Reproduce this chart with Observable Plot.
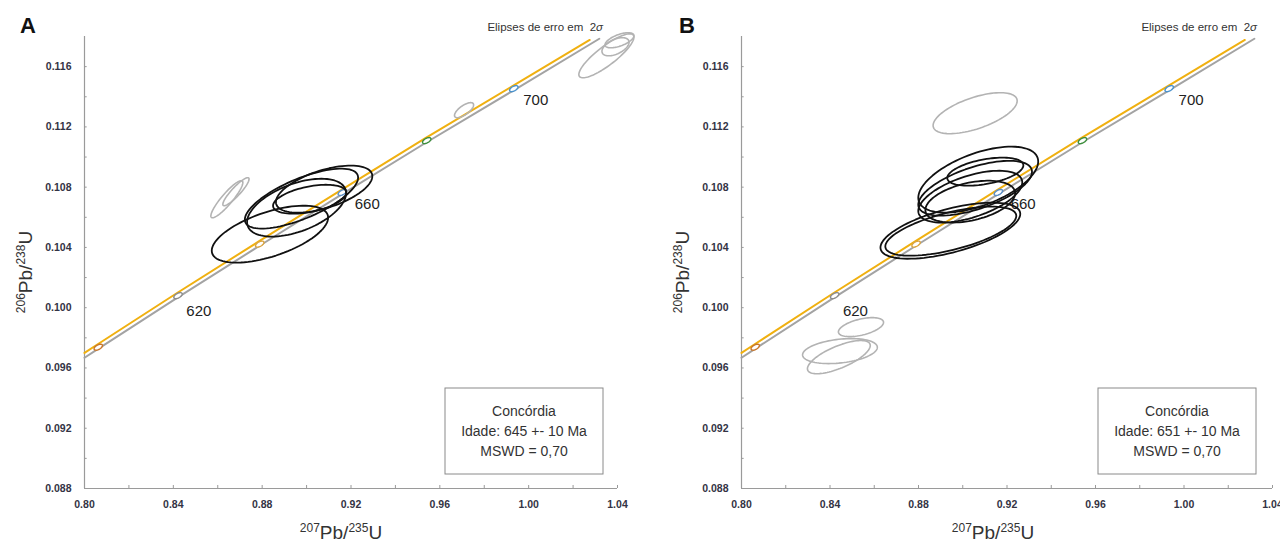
<!DOCTYPE html>
<html><head><meta charset="utf-8">
<script src="https://cdn.jsdelivr.net/npm/d3@7"></script>
<script src="https://cdn.jsdelivr.net/npm/@observablehq/plot@0.6"></script>
<style>
body{margin:0;background:#fff;width:1280px;height:543px;overflow:hidden;font-family:"Liberation Sans",Arial,sans-serif}
#wrap{position:relative;width:1280px;height:543px}
#a{position:absolute;left:0;top:0}
#b{position:absolute;left:640px;top:0}
svg{overflow:visible}
</style></head><body><div id="wrap"><div id="a"></div><div id="b"></div></div>
<script>
// ---- axes ----
const xTicks = [0.80, 0.84, 0.88, 0.92, 0.96, 1.00, 1.04];
const xMinor = [0.82, 0.86, 0.90, 0.94, 0.98, 1.02];
const yTicks = [0.088, 0.092, 0.096, 0.100, 0.104, 0.108, 0.112, 0.116];
const yMinor = [0.090, 0.094, 0.098, 0.102, 0.106, 0.110, 0.114];

// ---- concordia (orange) and its grey companion line ----
const concX = [0.800, 0.8056, 0.8415, 0.8783, 0.9155, 0.9535, 0.9927, 1.0275];
const concY = [0.0970, 0.09754, 0.10096, 0.10438, 0.10781, 0.11125, 0.11470, 0.11777];
const greyX = [0.800, 0.8056, 0.8415, 0.8783, 0.9155, 0.9535, 0.9927, 1.0318];
const greyY = [0.09668, 0.09722, 0.10064, 0.10406, 0.10749, 0.11093, 0.11438, 0.11785];

// ---- age markers on the concordia ----
const markerAge = [600, 620, 640, 660, 680, 700];
const markerX = [0.8062, 0.8421, 0.8789, 0.9161, 0.9541, 0.9933];
const markerY = [0.09738, 0.10080, 0.10422, 0.10765, 0.11109, 0.11454];
const markerColor = ["#c8762a", "#8c8c8c", "#d9a441", "#5b8fc7", "#3d8f3d", "#4a92cc"];
const labelText = ["620", "660", "700"];
const labelX = [0.8515, 0.9273, 1.0032];
const labelY = [0.0998, 0.1069, 0.11374];

// ---- Panel A ellipses (2σ): centre, half-widths, correlation ----
const aCx  = [0.8835, 0.8977, 0.8955, 0.9014, 0.9079, 0.8641, 0.8682, 0.9709, 1.0350, 1.0391, 1.0409];
const aCy  = [0.10488, 0.10724, 0.10664, 0.10720, 0.10787, 0.10720, 0.10770, 0.11311, 0.11672, 0.11732, 0.11775];
const aSx  = [0.0262, 0.0255, 0.0223, 0.0165, 0.0217, 0.0072, 0.0059, 0.0043, 0.0124, 0.0061, 0.0065];
const aSy  = [0.00189, 0.00199, 0.00192, 0.00096, 0.00156, 0.00123, 0.00093, 0.00050, 0.00146, 0.00060, 0.00050];
const aRho = [0.58, 0.70, 0.50, 0.45, 0.55, 0.90, 0.90, 0.70, 0.85, 0.50, 0.60];
const aUsed = [true, true, true, true, true, false, false, false, false, false, false];

// ---- Panel B ellipses ----
const bCx  = [0.8944, 0.8946, 0.9070, 0.9102, 0.9034, 0.9034, 0.9056, 0.9056, 0.8540, 0.8445, 0.8440];
const bCy  = [0.10511, 0.10508, 0.10850, 0.10903, 0.10737, 0.10704, 0.10793, 0.11291, 0.09871, 0.09712, 0.09672];
const bSx  = [0.0316, 0.0296, 0.0271, 0.0172, 0.0235, 0.0203, 0.0257, 0.0190, 0.0102, 0.0169, 0.0142];
const bSy  = [0.00186, 0.00163, 0.00219, 0.00093, 0.00172, 0.00139, 0.00182, 0.00136, 0.00063, 0.00083, 0.00110];
const bRho = [0.60, 0.62, 0.55, 0.45, 0.55, 0.40, 0.60, 0.60, 0.50, 0.30, 0.70];
const bUsed = [true, true, true, true, true, true, true, false, false, false, false];

const ages = ["645", "651"];

function ellipseRows(cx, cy, sx, sy, rho, used) {
  const rows = [];
  cx.forEach((c, i) => {
    const k = Math.sqrt(1 - rho[i] * rho[i]);
    for (let j = 0; j <= 90; j++) {
      const t = 2 * Math.PI * j / 90;
      rows.push({id: i, used: used[i],
        x: c + sx[i] * Math.cos(t),
        y: cy[i] + sy[i] * (rho[i] * Math.cos(t) + k * Math.sin(t))});
    }
  });
  return rows;
}
function markerRows() {
  const rows = [];
  markerX.forEach((c, i) => {
    const sx = 0.0019, sy = 0.00020, r = 0.55, k = Math.sqrt(1 - r * r);
    for (let j = 0; j <= 30; j++) {
      const t = 2 * Math.PI * j / 30;
      rows.push({id: i, color: markerColor[i],
        x: c + sx * Math.cos(t), y: markerY[i] + sy * (r * Math.cos(t) + k * Math.sin(t))});
    }
  });
  return rows;
}

const conc = concX.map((x, i) => ({x, y: concY[i]}));
const band = greyX.map((x, i) => ({x, y: greyY[i]}));
const labels = labelText.map((t, i) => ({t, x: labelX[i], y: labelY[i]}));

function panel(ell, ml, mr) {
  const black = ell.filter(d => d.used), grey = ell.filter(d => !d.used);
  return Plot.plot({
    width: 640, height: 543,
    marginLeft: ml, marginRight: mr, marginTop: 36, marginBottom: 55,
    x: {domain: [0.80, 1.04]},
    y: {domain: [0.088, 0.118]},
    style: {fontFamily: "Liberation Sans, Arial, sans-serif", overflow: "visible"},
    marks: [
      Plot.ruleX([0.80], {stroke: "#9a9a9a", strokeWidth: 1.2}),
      Plot.ruleY([0.088], {stroke: "#9a9a9a", strokeWidth: 1.2}),
      Plot.ruleY(yTicks.concat(yMinor), {x1: 0.80, x2: 0.8012, stroke: "#9a9a9a"}),
      Plot.ruleX(xTicks.concat(xMinor), {y1: 0.088, y2: 0.0882, stroke: "#9a9a9a"}),
      Plot.axisY({ticks: yTicks, tickSize: 0, tickPadding: 13, tickFormat: d3.format(".3f"),
        label: null, fontSize: 10.5, fontWeight: "bold", fill: "#333344"}),
      Plot.axisX({ticks: xTicks, tickSize: 0, tickPadding: 12, tickFormat: d3.format(".2f"),
        label: null, fontSize: 10.5, fontWeight: "bold", fill: "#333344"}),
      Plot.text(labels, {x: "x", y: "y", text: "t", fontSize: 15, fill: "#222"}),
      Plot.line(band, {x: "x", y: "y", stroke: "#a3a3a3", strokeWidth: 2}),
      Plot.line(conc, {x: "x", y: "y", stroke: "#f0b010", strokeWidth: 2}),
      Plot.line(markerRows(), {x: "x", y: "y", z: "id", stroke: "color", fill: "white", strokeWidth: 1.4}),
      Plot.line(grey, {x: "x", y: "y", z: "id", stroke: "#b3b3b3", strokeWidth: 1.6}),
      Plot.line(black, {x: "x", y: "y", z: "id", stroke: "#111", strokeWidth: 1.8})
    ]
  });
}

function decorate(svg, letter, yTitleX, xTitleX, boxX, age) {
  const s = d3.select(svg);
  s.append("text").attr("x", letter === "A" ? 28 : 47).attr("y", 33)
    .attr("font-size", 22).attr("font-weight", "bold").attr("fill", "#111").text(letter);
  const e = s.append("text").attr("x", letter === "A" ? 603 : 617).attr("y", 31)
    .attr("text-anchor", "end").attr("font-size", 11.5).attr("fill", "#333");
  e.append("tspan").text("Elipses de erro em  2");
  e.append("tspan").attr("font-style", "italic").text("σ");
  // x title
  const xt = s.append("text").attr("x", xTitleX).attr("y", 539).attr("text-anchor", "middle")
    .attr("font-size", 19).attr("fill", "#333");
  xt.append("tspan").attr("font-size", 12).attr("dy", -7).text("207");
  xt.append("tspan").attr("dy", 7).text("Pb/");
  xt.append("tspan").attr("font-size", 12).attr("dy", -7).text("235");
  xt.append("tspan").attr("dy", 7).text("U");
  // y title
  const yt = s.append("text").attr("transform", `translate(${yTitleX},272) rotate(-90)`)
    .attr("text-anchor", "middle").attr("font-size", 19).attr("fill", "#333");
  yt.append("tspan").attr("font-size", 12).attr("dy", -7).text("206");
  yt.append("tspan").attr("dy", 7).text("Pb/");
  yt.append("tspan").attr("font-size", 12).attr("dy", -7).text("238");
  yt.append("tspan").attr("dy", 7).text("U");
  // summary box
  s.append("rect").attr("x", boxX).attr("y", 388).attr("width", 158).attr("height", 86)
    .attr("fill", "#fff").attr("stroke", "#8a8a8a").attr("stroke-width", 1);
  const lines = ["Concórdia", `Idade: ${age} +- 10 Ma`, "MSWD = 0,70"];
  lines.forEach((t, i) => s.append("text").attr("x", boxX + 79).attr("y", 416 + i * 20)
    .attr("text-anchor", "middle").attr("font-size", 14).attr("fill", "#333").text(t));
}

const A = panel(ellipseRows(aCx, aCy, aSx, aSy, aRho, aUsed), 84, 23);
const B = panel(ellipseRows(bCx, bCy, bSx, bSy, bRho, bUsed), 101, 8);
decorate(A, "A", 32, 341, 445, ages[0]);
decorate(B, "B", 49, 353, 458, ages[1]);
document.getElementById("a").appendChild(A);
document.getElementById("b").appendChild(B);
</script></body></html>
